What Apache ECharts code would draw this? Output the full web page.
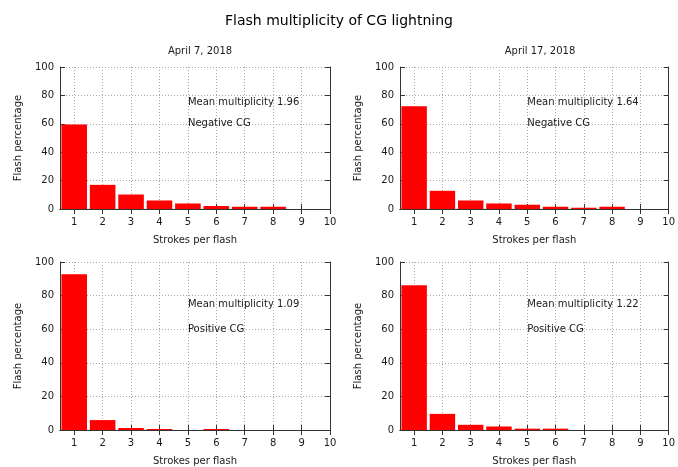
<!DOCTYPE html>
<html>
<head>
<meta charset="utf-8">
<script src="https://cdn.jsdelivr.net/npm/echarts@6/dist/echarts.min.js"></script>
<style>
  html, body { margin: 0; padding: 0; background: #fff; }
  #chart { width: 678px; height: 467px; }
</style>
</head>
<body>
<div id="chart"></div>
<script>
// strokes per flash (x)
const strokes = [1, 2, 3, 4, 5, 6, 7, 8, 9, 10]

// flash percentage per panel
const apr7Neg = [59.5, 17.0, 10.2, 6.0, 3.9, 2.1, 1.6, 1.6, 0, 0]
const apr17Neg = [72.4, 12.8, 6.0, 3.9, 3.0, 1.6, 0.9, 1.6, 0, 0]
const apr7Pos = [92.7, 5.9, 1.2, 0.6, 0, 0.6, 0, 0, 0, 0]
const apr17Pos = [86.2, 9.6, 3.1, 2.1, 0.8, 0.8, 0, 0, 0, 0]

const panelData = [apr7Neg, apr17Neg, apr7Pos, apr17Pos]
const meanText = ['Mean multiplicity 1.96', 'Mean multiplicity 1.64', 'Mean multiplicity 1.09', 'Mean multiplicity 1.22']
const typeText = ['Negative CG', 'Negative CG', 'Positive CG', 'Positive CG']
const dates = ['April 7, 2018', 'April 17, 2018']

const FONT = 'DejaVu Sans'
const textColor = '#1a1a1a'
const frameColor = '#333333'
const gridColor = '#a8a8a8'

const grids = [
  { left: 60, top: 67, width: 270, height: 142 },
  { left: 400, top: 67, width: 270, height: 142 },
  { left: 60, top: 262, width: 270, height: 169 },
  { left: 400, top: 262, width: 270, height: 169 }
]

const xAxes = []
const yAxes = []
const series = []

grids.forEach((g, i) => {
  const common = {
    type: 'value',
    gridIndex: i,
    axisLine: { show: true, lineStyle: { color: frameColor, width: 1 } },
    axisTick: { show: true, inside: true, length: 5, lineStyle: { color: frameColor } }
  }
  const xCommon = {
    ...common,
    min: 0.5,
    max: 10,
    axisTick: { ...common.axisTick, customValues: strokes },
    axisLabel: { customValues: strokes, color: textColor, fontFamily: FONT, fontSize: 10, margin: 8 }
  }
  xAxes.push({
    ...xCommon,
    position: 'bottom',
    name: 'Strokes per flash',
    nameLocation: 'middle',
    nameGap: 26,
    nameTextStyle: { color: textColor, fontFamily: FONT, fontSize: 10 },
    splitLine: { show: true, lineStyle: { color: gridColor, type: [1, 2] } }
  })
  xAxes.push({
    ...xCommon,
    position: 'top',
    axisLabel: { show: false, customValues: strokes },
    splitLine: { show: false }
  })
  const yCommon = { ...common, min: 0, max: 100, interval: 20 }
  yAxes.push({
    ...yCommon,
    position: 'left',
    name: 'Flash percentage',
    nameLocation: 'middle',
    nameGap: 37,
    nameTextStyle: { color: textColor, fontFamily: FONT, fontSize: 10 },
    axisLabel: { color: textColor, fontFamily: FONT, fontSize: 10, margin: 6 },
    splitLine: { show: true, lineStyle: { color: gridColor, type: [1, 2] } }
  })
  yAxes.push({
    ...yCommon,
    position: 'right',
    axisLabel: { show: false },
    splitLine: { show: false }
  })

  series.push({
    type: 'bar',
    xAxisIndex: i * 2,
    yAxisIndex: i * 2,
    barWidth: '90%',
    itemStyle: { color: '#ff0000' },
    data: strokes.map((s, k) => [s, panelData[i][k]]),
    silent: true
  })
  series.push({
    type: 'scatter',
    xAxisIndex: i * 2,
    yAxisIndex: i * 2,
    symbolSize: 0,
    silent: true,
    itemStyle: { opacity: 1 },
    label: {
      show: true,
      position: 'right',
      distance: 0,
      color: textColor,
      fontFamily: FONT,
      fontSize: 10,
      formatter: p => p.name
    },
    data: [
      { name: meanText[i], value: [5, 75] },
      { name: typeText[i], value: [5, 60] }
    ]
  })
})

const chart = echarts.init(document.getElementById('chart'))
chart.setOption({
  animation: false,
  backgroundColor: '#fff',
  title: [
    {
      text: 'Flash multiplicity of CG lightning',
      left: 'center',
      top: 9,
      textStyle: { fontFamily: FONT, fontSize: 14, fontWeight: 'normal', color: '#000' }
    },
    {
      text: dates[0],
      left: 195,
      top: 41,
      textAlign: 'center',
      textStyle: { fontFamily: FONT, fontSize: 10, fontWeight: 'normal', color: textColor }
    },
    {
      text: dates[1],
      left: 535,
      top: 41,
      textAlign: 'center',
      textStyle: { fontFamily: FONT, fontSize: 10, fontWeight: 'normal', color: textColor }
    }
  ],
  grid: grids,
  xAxis: xAxes,
  yAxis: yAxes,
  series: series
})
</script>
</body>
</html>
